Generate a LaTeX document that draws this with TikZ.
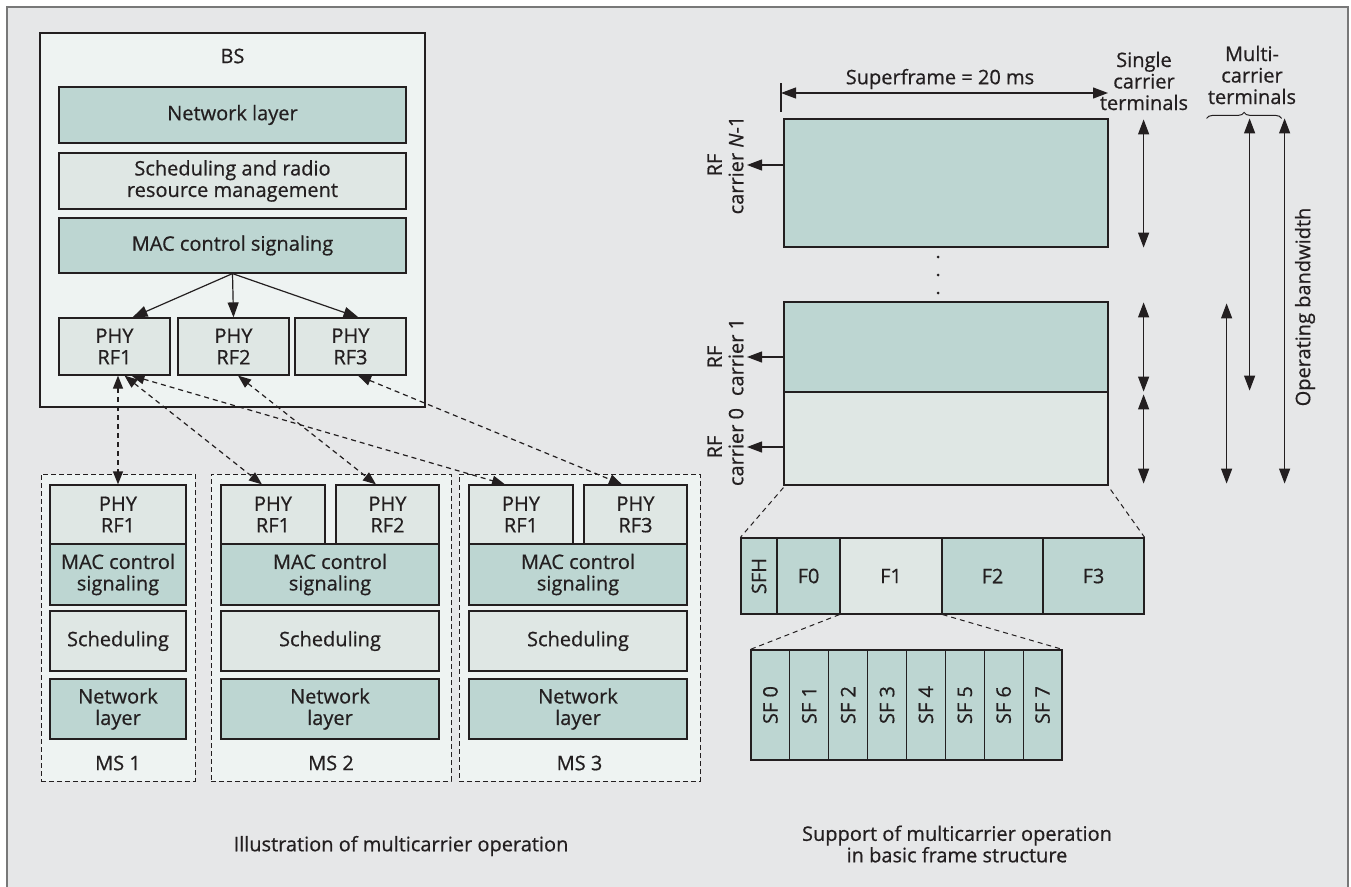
\documentclass[tikz,border=0pt]{standalone}
\usepackage{fontspec}
\usepackage{graphicx}
\setmainfont[FakeBold=0.6]{Open Sans}
\usetikzlibrary{arrows.meta,calc,decorations.pathreplacing}
\tikzset{
  layer/.style={
    draw=ink,
    line width=1.2pt,
    inner sep=0pt,
    align=center
  },
  layer-teal/.style={layer, fill=tealbox},
  layer-light/.style={layer, fill=lightbox},
  phy/.style={layer-light, minimum height=57pt},
  ms-phy/.style={layer-light, minimum height=59pt},
  ms-frame/.style={draw=ink, fill=panel, line width=1pt, dash pattern=on 5pt off 3pt, inner sep=0pt},
  to-arrow/.style={draw=ink, line width=1.2pt, -{Triangle[length=15pt,width=11pt]}},
  both-arrow/.style={draw=ink, line width=1.2pt, {Triangle[length=15pt,width=11pt]}-{Triangle[length=15pt,width=11pt]}},
  radio-link/.style={draw=ink, line width=1.2pt, dash pattern=on 5pt off 4pt,
    {Triangle[length=13pt,width=10pt]}-{Triangle[length=13pt,width=10pt]}},
  zoom-guide/.style={draw=ink, line width=1pt, dash pattern=on 5pt off 4pt},
  dot/.style={circle, fill=ink, minimum size=3pt, inner sep=0pt}
}
\definecolor{framegrey}{RGB}{230,231,232}
\definecolor{frameline}{RGB}{120,120,120}
\definecolor{panel}{RGB}{238,243,242}
\definecolor{tealbox}{RGB}{189,214,210}
\definecolor{lightbox}{RGB}{223,231,228}
\definecolor{ink}{RGB}{35,31,32}
\newcommand{\outerframe}{
  \useasboundingbox (0,0) rectangle (1351,886);
  \fill[white] (0,0) rectangle (1351,886);
  \draw[frameline, fill=framegrey, line width=1.5pt] (7,900) -- (7,7) -- (1348,7) -- (1348,900);
}

\begin{document}
\begin{tikzpicture}[x=1pt, y=-1pt, every node/.style={font=\fontsize{20}{21.5}\selectfont, text=ink}]
  \outerframe

  % 1. Base station
  \node[draw=ink, fill=panel, line width=1.2pt, minimum width=385pt, minimum height=374pt, inner sep=0pt] (bs) at (232.5,220) {};
  \node (bs-label) at (232.5,56) {BS};
  \node[layer-teal, minimum width=347pt, minimum height=56pt] (bs-net) at (232.5,115) {Network layer};
  \node[layer-light, minimum width=347pt, minimum height=56pt] (bs-sched) at (232.5,181) {Scheduling and radio\\resource management};
  \node[layer-teal, minimum width=347pt, minimum height=55pt] (bs-mac) at (232.5,245.5) {MAC control signaling};
  \node[phy, minimum width=111pt] (bs-rf1) at (114.5,346.5) {PHY\\RF1};
  \node[phy, minimum width=111pt] (bs-rf2) at (233.5,346.5) {PHY\\RF2};
  \node[phy, minimum width=111pt] (bs-rf3) at (350.5,346.5) {PHY\\RF3};

  \draw[to-arrow] (bs-mac.south) -- ($(bs-rf1.north)+(18,0)$);
  \draw[to-arrow] (bs-mac.south) -- (bs-rf2.north);
  \draw[to-arrow] (bs-mac.south) -- ($(bs-rf3.north)+(8,0)$);

  % 2. Mobile stations (dashed frames, layer stacks)
  \node[ms-frame, minimum width=154pt, minimum height=307pt] (ms1) at (118,627.5) {};
  \node[ms-frame, minimum width=240pt, minimum height=307pt] (ms2) at (331,627.5) {};
  \node[ms-frame, minimum width=241pt, minimum height=307pt] (ms3) at (579.5,627.5) {};

  \node[ms-phy, minimum width=136pt] (ms1-rf1) at (118,514.5) {PHY\\RF1};
  \node[layer-teal, minimum width=136pt, minimum height=61pt] (ms1-mac) at (118,574.5) {MAC control\\signaling};
  \node[layer-light, minimum width=136pt, minimum height=60pt] (ms1-sched) at (118,641) {Scheduling};
  \node[layer-teal, minimum width=136pt, minimum height=60pt] (ms1-net) at (118,709) {Network\\layer};
  \node (ms1-label) at (118,763) {MS 1};

  \node[ms-phy, minimum width=104pt] (ms2-rf1) at (273,514.5) {PHY\\RF1};
  \node[ms-phy, minimum width=103pt] (ms2-rf2) at (387.5,514.5) {PHY\\RF2};
  \node[layer-teal, minimum width=218pt, minimum height=61pt] (ms2-mac) at (330,574.5) {MAC control\\signaling};
  \node[layer-light, minimum width=218pt, minimum height=60pt] (ms2-sched) at (330,641) {Scheduling};
  \node[layer-teal, minimum width=218pt, minimum height=60pt] (ms2-net) at (330,709) {Network\\layer};
  \node (ms2-label) at (331,763) {MS 2};

  \node[ms-phy, minimum width=104pt] (ms3-rf1) at (521,514.5) {PHY\\RF1};
  \node[ms-phy, minimum width=103pt] (ms3-rf3) at (635.5,514.5) {PHY\\RF3};
  \node[layer-teal, minimum width=218pt, minimum height=61pt] (ms3-mac) at (578,574.5) {MAC control\\signaling};
  \node[layer-light, minimum width=218pt, minimum height=60pt] (ms3-sched) at (578,641) {Scheduling};
  \node[layer-teal, minimum width=218pt, minimum height=60pt] (ms3-net) at (578,709) {Network\\layer};
  \node (ms3-label) at (579.5,763) {MS 3};

  % radio links between BS and MS PHYs
  \draw[radio-link] (ms1-rf1.north |- bs-rf1.south) -- (ms1-rf1.north);
  \draw[radio-link] ($(bs-rf1.south)+(10,0)$) -- ($(ms2-rf1.north)+(-11,0)$);
  \draw[radio-link] ($(bs-rf1.south)+(17,0)$) -- ($(ms3-rf1.north)+(-16,0)$);
  \draw[radio-link] ($(bs-rf2.south)+(4.5,0)$) -- ($(ms2-rf2.north)+(-11.5,0)$);
  \draw[radio-link] ($(bs-rf3.south)+(7.5,0)$) -- ($(ms3-rf3.north)+(-13.5,0)$);

  \node (left-caption) at (401,846) {Illustration of multicarrier operation};

  % 3. RF carriers in the superframe
  \node[layer-teal, minimum width=324pt, minimum height=128pt] (carrier-top) at (946,183) {};
  \node[layer-teal, minimum width=324pt, minimum height=90pt] (carrier-one) at (946,347) {};
  \node[layer-light, minimum width=324pt, minimum height=93pt] (carrier-zero) at (946,438.5) {};
  \node[dot] (dot1) at (938,257) {};
  \node[dot] (dot2) at (938,275) {};
  \node[dot] (dot3) at (938,293) {};

  \coordinate (sf-start) at (781,93);
  \coordinate (sf-end) at (1108,93);
  \draw[ink, line width=1.2pt] (sf-start) ++(0,-10) -- ++(0,29);
  \draw[both-arrow] (sf-start) -- (sf-end);
  \node (sf-label) at (940,79) {Superframe = 20 ms};

  \node[rotate=90, anchor=south, align=center] (rf-top) at (747,165) {RF\\carrier \textit{N}-1};
  \node[rotate=90, anchor=south, align=center] (rf-one) at (747,357) {RF\\carrier 1};
  \node[rotate=90, anchor=south, align=center] (rf-zero) at (747,447) {RF\\carrier 0};
  \draw[to-arrow] (carrier-top.west |- rf-top.south) -- (rf-top.south);
  \draw[to-arrow] (carrier-one.west |- rf-one.south) -- (rf-one.south);
  \draw[to-arrow] (carrier-zero.west |- rf-zero.south) -- (rf-zero.south);

  % single and multicarrier terminal spans
  \node[align=center] (single-label) at (1144,81) {Single\\carrier\\terminals};
  \node[align=center] (multi-label) at (1252,75) {Multi-\\carrier\\terminals};
  \draw[both-arrow] ($(carrier-top.north east)+(35,1)$) -- ($(carrier-top.south east)+(35,0)$);
  \draw[both-arrow] ($(carrier-one.north east)+(35,1)$) -- ($(carrier-one.south east)+(35,-1)$);
  \draw[both-arrow] ($(carrier-zero.north east)+(35,3)$) -- ($(carrier-zero.south east)+(35,-2)$);
  \draw[both-arrow] ($(carrier-one.north east)+(118,2)$) -- ($(carrier-zero.south east)+(118,-2)$);
  \draw[both-arrow] ($(carrier-top.north east)+(141,0)$) -- ($(carrier-one.south east)+(141,-2)$);
  \draw[both-arrow] ($(carrier-top.north east)+(176,0)$) -- ($(carrier-zero.south east)+(176,-2)$);
  \draw[ink, line width=1pt, decorate, decoration={brace, amplitude=6pt}]
    ($(carrier-top.north east)+(98,0)$) -- ($(carrier-top.north east)+(173,0)$);
  \node[rotate=90] (opbw-label) at (1305,307) {Operating bandwidth};

  % 4. Frame and subframe structure
  \node[layer-teal, minimum width=36pt, minimum height=76pt] (sfh) at (759,576) {\rotatebox{90}{SFH}};
  \node[layer-teal, minimum width=63pt, minimum height=76pt] (f0) at (808.5,576) {F0};
  \node[layer-light, minimum width=102pt, minimum height=76pt] (f1) at (891,576) {F1};
  \node[layer-teal, minimum width=101pt, minimum height=76pt] (f2) at (992.5,576) {F2};
  \node[layer-teal, minimum width=101pt, minimum height=76pt] (f3) at (1093.5,576) {F3};
  \draw[zoom-guide] ($(carrier-zero.south west)+(0,2)$) -- (sfh.north west);
  \draw[zoom-guide] ($(carrier-zero.south east)+(2,4)$) -- (f3.north east);

  \foreach \i in {0,...,7}
    \node[layer-teal, minimum width=38.875pt, minimum height=110pt] (sf\i) at ({770.4+38.875*\i},705) {\rotatebox{90}{SF \i}};
  \draw[zoom-guide] (f1.south west) -- (sf0.north west);
  \draw[zoom-guide] (f1.south east) -- (sf7.north east);

  \node[align=center] (right-caption) at (957,844) {Support of multicarrier operation\\in basic frame structure};

\end{tikzpicture}
\end{document}
